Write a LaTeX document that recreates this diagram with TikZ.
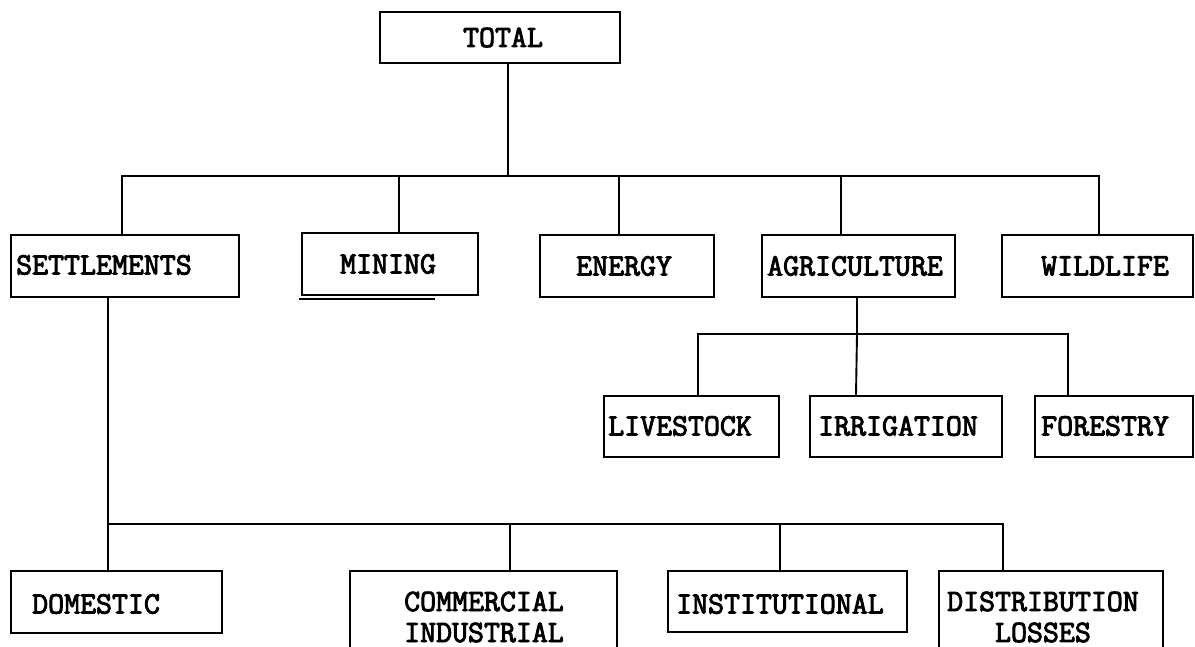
\documentclass[tikz,border=0pt]{standalone}
\usepackage{fontspec}
\newfontfamily\boxfont[FakeBold=3]{Latin Modern Mono}
\begin{document}
\begin{tikzpicture}[x=1pt,y=-1pt,
  box/.style={draw,line width=1.9pt,inner sep=0pt,minimum height=#1},
  box/.default=62,
  lbl/.style={inner sep=0pt,font=\fontsize{31}{31}\selectfont\boxfont},
  lblw/.style={lbl,anchor=west},
  wire/.style={line width=1.9pt}]
\useasboundingbox (0,0) rectangle (1195,647);
\clip (0,0) rectangle (1195,647);

% ---- boxes ----
\node[box=51,minimum width=240] (total)  at (500,37.5) {};
\node[box,minimum width=228] (settle) at (125,266) {};
\node[box,minimum width=176] (mining) at (390,264) {};
\node[box,minimum width=174] (energy) at (627,266) {};
\node[box,minimum width=193] (agri)   at (858.5,266) {};
\node[box,minimum width=191] (wild)   at (1097.5,266) {};
\node[box=61,minimum width=175] (live)  at (691.5,426.5) {};
\node[box=61,minimum width=192] (irrig) at (906,426.5) {};
\node[box=61,minimum width=158] (forest) at (1114,426.5) {};
\node[box,minimum width=211] (dom)    at (116.5,602) {};
\node[box=99,minimum width=267] (comm) at (483.5,620.5) {};
\node[box=61,minimum width=239] (inst) at (787.5,601.5) {};
\node[box=99,minimum width=224] (dist) at (1051,620.5) {};

% ---- labels ----
\node[lbl]  (totalT)  at (503,37.5) {TOTAL};
\node[lblw] (settleT) at (16,265) {SETTLEMENTS};
\node[lblw] (miningT) at (340,264) {MINING};
\node[lblw] (energyT) at (576,266) {ENERGY};
\node[lblw] (agriT)   at (767,266) {AGRICULTURE};
\node[lblw] (wildT)   at (1041,266) {WILDLIFE};
\node[lblw] (liveT)   at (608,426) {LIVESTOCK};
\node[lblw] (irrigT)  at (818,426) {IRRIGATION};
\node[lblw] (forestT) at (1041,426) {FORESTRY};
\node[lblw] (domT)    at (32,604) {DOMESTIC};
\node[lbl,align=center] (commT) at (484,617) {COMMERCIAL\\INDUSTRIAL};
\node[lblw] (instT)   at (676,604) {INSTITUTIONAL};
\node[lbl,align=center] (distT) at (1043,617) {DISTRIBUTION\\LOSSES};

% stray rule under the MINING box
\draw[line width=2pt] ([xshift=-2pt,yshift=-3pt]mining.south west) -- ++(136,0);

% ---- bus levels ----
\coordinate (busA) at (0,176);
\coordinate (busB) at (0,334);
\coordinate (busC) at (0,524);

% ---- stem points ----
\coordinate (totalS)  at ([xshift=8pt]total.south);
\coordinate (settleN) at ([xshift=-3pt]settle.north);
\coordinate (miningN) at ([xshift=9pt]mining.north);
\coordinate (energyN) at ([xshift=-8pt]energy.north);
\coordinate (agriN)   at ([xshift=-17.5pt]agri.north);
\coordinate (wildN)   at ([xshift=1.5pt]wild.north);
\coordinate (agriS)   at ([xshift=-1.5pt]agri.south);
\coordinate (liveN)   at ([xshift=6.5pt]live.north);
\coordinate (irrigN)  at ([xshift=-50pt]irrig.north);
\coordinate (forestN) at ([xshift=-46pt]forest.north);
\coordinate (settleS) at ([xshift=-17pt]settle.south);
\coordinate (domN)    at ([xshift=-8.5pt]dom.north);
\coordinate (commN)   at ([xshift=26.5pt]comm.north);
\coordinate (instN)   at ([xshift=-7.5pt]inst.north);
\coordinate (distN)   at ([xshift=-48pt]dist.north);

% ---- connectors ----
\draw[wire] (totalS) -- (totalS |- busA);
\draw[wire] (settleN) |- (wildN |- busA) -- (wildN);
\draw[wire] (miningN |- busA) -- (miningN);
\draw[wire] (energyN |- busA) -- (energyN);
\draw[wire] (agriN |- busA) -- (agriN);

\draw[wire] (agriS) -- (agriS |- busB) -- (irrigN);
\draw[wire] (liveN) |- (forestN |- busB) -- (forestN);

\draw[wire] (settleS) -- (domN);
\draw[wire] (settleS |- busC) -- (distN |- busC) -- (distN);
\draw[wire] (commN |- busC) -- (commN);
\draw[wire] (instN |- busC) -- (instN);
\end{tikzpicture}
\end{document}
